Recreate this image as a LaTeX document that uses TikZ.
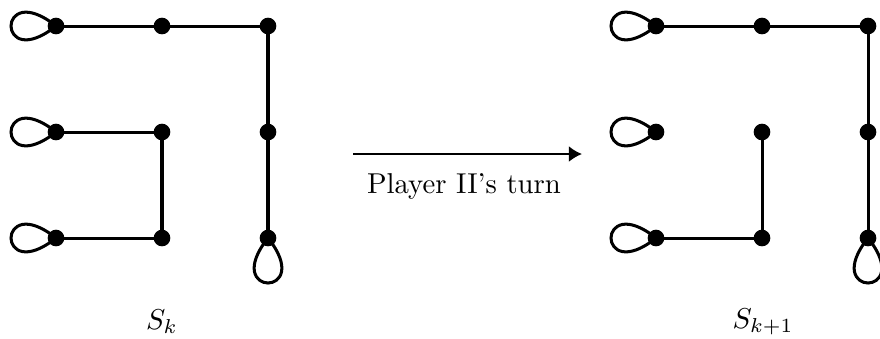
\documentclass[tikz,border=0pt]{standalone}
\usetikzlibrary{arrows.meta}
\begin{document}
\begin{tikzpicture}[x=0.348pt,y=-0.348pt,
  vtx/.style={circle,fill=black,inner sep=0pt,minimum size=5.8pt},
  edge/.style={line width=1.05pt},
  lp/.style={line width=1.05pt}]
\useasboundingbox (0,0) rectangle (880,338);
% ---------- left graph S_k ----------
\foreach \n/\x/\y in {a1/56/26,a2/162/26,a3/268/26,b1/56/132,b2/162/132,b3/268/132,c1/56/238,c2/162/238,c3/268/238}
  \coordinate (\n) at (\x,\y);
\draw[edge] (a1) -- (a2) -- (a3) -- (b3) -- (c3);
\draw[edge] (b1) -- (b2) -- (c2) -- (c1);
\foreach \n in {a1,b1,c1}
  \draw[lp] (\n) .. controls +(-60,-48) and +(-60,48) .. (\n);
\draw[lp] (c3) .. controls +(-48,60) and +(48,60) .. (c3);
\foreach \n in {a1,a2,a3,b1,b2,b3,c1,c2,c3}
  \node[vtx] (v\n) at (\n) {};
\node (lk) at (162,322) {$S_k$};
% ---------- right graph S_{k+1} ----------
\foreach \n/\x/\y in {d1/656/26,d2/762/26,d3/868/26,e1/656/132,e2/762/132,e3/868/132,f1/656/238,f2/762/238,f3/868/238}
  \coordinate (\n) at (\x,\y);
\draw[edge] (d1) -- (d2) -- (d3) -- (e3) -- (f3);
\draw[edge] (e2) -- (f2) -- (f1);
\foreach \n in {d1,e1,f1}
  \draw[lp] (\n) .. controls +(-60,-48) and +(-60,48) .. (\n);
\draw[lp] (f3) .. controls +(-48,60) and +(48,60) .. (f3);
\foreach \n in {d1,d2,d3,e1,e2,e3,f1,f2,f3}
  \node[vtx] (v\n) at (\n) {};
\node (lk1) at (763,322) {$S_{k+1}$};
% ---------- arrow ----------
\coordinate (as) at (353,154);
\coordinate (ae) at (582,154);
\draw[line width=0.75pt,-{Latex[length=4.6pt,width=5.6pt]}] (as) -- (ae);
\node (lab) at (464,186) {Player II's turn};
\end{tikzpicture}
\end{document}
